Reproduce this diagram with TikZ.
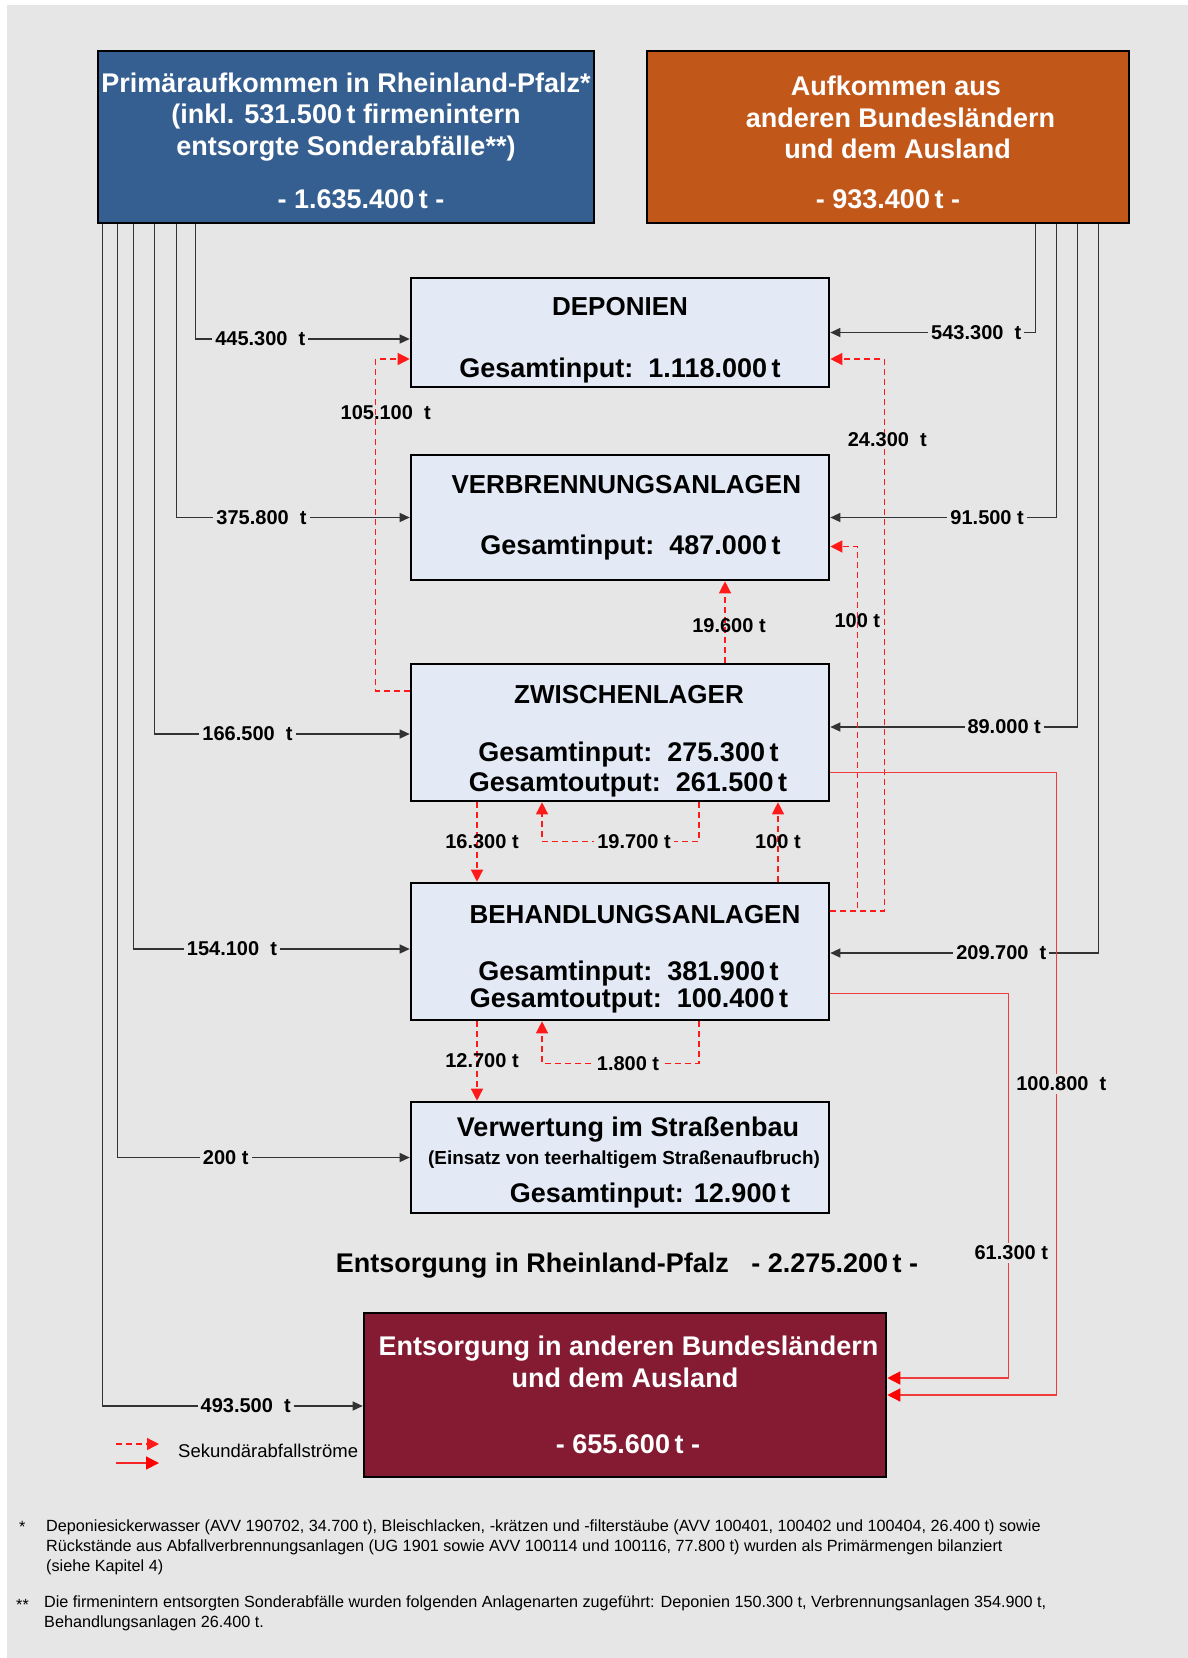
\documentclass[tikz,border=0pt]{standalone}
\usepackage{fontspec}
\setmainfont{Liberation Sans}
\usetikzlibrary{arrows.meta}
\definecolor{primblue}{HTML}{365F91}
\definecolor{auslorange}{HTML}{C2571A}
\definecolor{entsred}{HTML}{841B32}
\definecolor{anlagefill}{HTML}{E3EAF5}
\definecolor{paper}{HTML}{E6E6E6}
\definecolor{flowgray}{HTML}{333333}
\definecolor{secred}{HTML}{FF1A1A}
\definecolor{outred}{HTML}{F03C3C}
\newcommand{\boxfont}{\fontsize{27}{30}\selectfont\bfseries}
\newcommand{\amountfont}{\fontsize{20}{24}\selectfont\bfseries}
\newcommand{\notefont}{\fontsize{16.2}{19.8}\selectfont}
\newcommand{\kopf}[1]{\rule{0pt}{#1}}
\newcommand{\einr}[1]{\hspace*{#1pt}}
\newcommand{\titel}[1]{{\fontsize{26}{30}\selectfont #1}}
\tikzset{
  anlage/.style={draw=black, line width=2.6pt, fill=anlagefill, inner sep=0pt, align=center, minimum width=418pt, font=\boxfont},
  quelle/.style={draw=black, line width=2.6pt, inner sep=0pt, align=center, text=white, font=\fontsize{27}{31.5}\selectfont\bfseries},
  flow/.style={flowgray, line width=1.3pt, -{Triangle[length=10pt,width=9pt]}},
  secflow/.style={secred, line width=1.3pt, dash pattern=on 6pt off 4pt, -{Triangle[length=12pt,width=12pt]}},
  outflow/.style={outred, line width=1.5pt, -{Triangle[length=13pt,width=13pt,color=red]}},
  amount/.style={fill=paper, inner sep=3pt, text=black, font=\amountfont},
  secamount/.style={inner sep=1pt, text=black, font=\amountfont},
  note/.style={inner sep=0pt, font=\notefont, align=left}
}
\begin{document}
\begin{tikzpicture}[x=1pt,y=-1pt]
  \useasboundingbox (0,0) rectangle (1188,1658);
  \fill[paper] (7,5) rectangle (1188,1658);

  % Aufkommen
  \node[quelle, fill=primblue, minimum width=496pt, minimum height=172pt] (prim) at (346,137)
    {\kopf{27.7pt}Primäraufkommen in Rheinland-Pfalz*\\(inkl. 531.500\,t firmenintern\\entsorgte Sonderabfälle**)\\[22pt]\einr{30}- 1.635.400\,t -};
  \node[quelle, fill=auslorange, minimum width=482pt, minimum height=172pt] (ausl) at (888,137)
    {\kopf{30.5pt}\einr{16}Aufkommen aus\\\einr{25}anderen Bundesländern\\\einr{19}und dem Ausland\\[18pt]- 933.400\,t -};

  % Anlagen
  \node[anlage, minimum height=109pt] (depo) at (620,332.5)
    {\kopf{34.5pt}\titel{DEPONIEN}\\[32pt]Gesamtinput:~~1.118.000\,t};
  \node[anlage, minimum height=125pt] (verb) at (620,517.5)
    {\einr{12.6}\titel{VERBRENNUNGSANLAGEN}\\[31pt]\einr{21}Gesamtinput:~~487.000\,t};
  \node[anlage, minimum height=137pt] (zwis) at (620,732.5)
    {\kopf{35.5pt}\einr{18}\titel{ZWISCHENLAGER}\\[28pt]\einr{17}Gesamtinput:~~275.300\,t\\\einr{16}Gesamtoutput:~~261.500\,t};
  \node[anlage, minimum height=137pt] (beha) at (620,951.5)
    {\kopf{33.5pt}\einr{30}\titel{BEHANDLUNGSANLAGEN}\\[27pt]\einr{17}Gesamtinput:~~381.900\,t\\[-3pt]\einr{18}Gesamtoutput:~~100.400\,t};
  \node[anlage, minimum height=111pt] (verw) at (620,1157.5)
    {\kopf{29.5pt}\einr{16}Verwertung im Straßenbau\\[-2pt]\einr{8}{\fontsize{18.9}{22}\selectfont (Einsatz von teerhaltigem Straßenaufbruch)}\\[8pt]\einr{60}Gesamtinput: 12.900\,t};
  \node[font=\boxfont] (rlpsum) at (627,1266) {Entsorgung in Rheinland-Pfalz~~~- 2.275.200\,t -};
  \node[quelle, fill=entsred, minimum width=522pt, minimum height=164pt] (ents) at (625,1395)
    {\einr{7}Entsorgung in anderen Bundesländern\\und dem Ausland\\[35pt]\einr{6}- 655.600\,t -};

  % Primaerstroeme Rheinland-Pfalz
  \draw[flow] ([xshift=99pt]prim.south west) |- node[amount,pos=0.651] {445.300~~t} ([yshift=-6.5pt]depo.west);
  \draw[flow] ([xshift=80pt]prim.south west) |- node[amount,pos=0.682] {375.800~~t} (verb.west);
  \draw[flow] ([xshift=58pt]prim.south west) |- node[amount,pos=0.682] {166.500~~t} ([yshift=-1.5pt]zwis.west);
  \draw[flow] ([xshift=37pt]prim.south west) |- node[amount,pos=0.678] {154.100~~t} ([yshift=2.5pt]beha.west);
  \draw[flow] ([xshift=21pt]prim.south west) |- node[amount,pos=0.685] {200~t} (verw.west);
  \draw[flow] ([xshift=6pt]prim.south west) |- node[amount,pos=0.775] {493.500~~t} ([yshift=-11pt]ents.west);

  % Importe
  \draw[flow] ([xshift=-95pt]ausl.south east) |- node[amount,pos=0.644] {543.300~~t} (depo.east);
  \draw[flow] ([xshift=-74pt]ausl.south east) |- node[amount,pos=0.653] {91.500~t} (verb.east);
  \draw[flow] ([xshift=-53pt]ausl.south east) |- node[amount,pos=0.648] {89.000~t} ([yshift=5.5pt]zwis.east);
  \draw[flow] ([xshift=-32pt]ausl.south east) |- node[amount,pos=0.681] {209.700~~t} ([yshift=-1.5pt]beha.east);

  % Sekundaerstroeme
  \draw[secflow] ([yshift=41.5pt]zwis.west) -- ++(-34,0) |- node[secamount,pos=0.42,xshift=10pt] {105.100~~t} ([yshift=-26.5pt]depo.west);
  \draw[secflow] ([yshift=40.5pt]beha.east) -- ++(54,0) |- node[secamount,pos=0.427,xshift=3pt] {24.300~~t} ([yshift=-26.5pt]depo.east);
  \draw[secflow] ([yshift=40.5pt]beha.east) -- ++(27,0) |- node[secamount,pos=0.398] {100~t} ([yshift=-29pt]verb.east);
  \draw[secflow] ([xshift=105pt]zwis.north) -- node[secamount,pos=0.45,xshift=4pt] {19.600~t} ([xshift=105pt]verb.south);
  \draw[secflow] ([xshift=-143pt]zwis.south) -- node[secamount,xshift=5pt] {16.300~t} ([xshift=-143pt]beha.north);
  \draw[secflow] ([xshift=79pt]zwis.south) -- ++(0,39) -| node[amount,pos=0.207] {19.700~t} ([xshift=-78pt]zwis.south);
  \draw[secflow] ([xshift=158pt]beha.north) -- node[secamount] {100~t} ([xshift=158pt]zwis.south);
  \draw[secflow] ([xshift=-143pt]beha.south) -- node[secamount,xshift=5pt] {12.700~t} ([xshift=-143pt]verw.north);
  \draw[secflow] ([xshift=79pt]beha.south) -- ++(0,42) -| node[amount,pos=0.226] {1.800~t} ([xshift=-78pt]beha.south);

  % Exporte
  \draw[outflow] ([yshift=-40pt]zwis.east) -- ++(226,0) |- node[amount,pos=0.25,xshift=5pt] {100.800~~t} (ents.east);
  \draw[outflow] ([yshift=-42pt]beha.east) -- ++(178,0) |- node[amount,pos=0.337,xshift=3pt] {61.300~t} ([yshift=17pt]ents.east);

  % Legende
  \node[inner sep=0pt, anchor=west, font=\fontsize{18.5}{22}\selectfont] (legende) at (178,1451) {Sekundärabfallströme};
  \draw[secflow] ([xshift=-62pt,yshift=7pt]legende.west) -- ++(43,0);
  \draw[outflow, outred!60!red] ([xshift=-62pt,yshift=-12pt]legende.west) -- ++(43,0);

  % Fussnoten
  \node[note, anchor=west] (stern) at (19,1527) {*};
  \node[note, anchor=north west] (fneins) at (46,1520)
    {Deponiesickerwasser (AVV 190702, 34.700 t), Bleischlacken, -krätzen und -filterstäube (AVV 100401, 100402 und 100404, 26.400 t) sowie\\
     Rückstände aus Abfallverbrennungsanlagen (UG 1901 sowie AVV 100114 und 100116, 77.800 t) wurden als Primärmengen bilanziert\\
     (siehe Kapitel 4)};
  \node[note, anchor=west] (sternstern) at (16,1605) {**};
  \node[note, anchor=north west] (fnzwei) at (44,1596)
    {Die firmenintern entsorgten Sonderabfälle wurden folgenden Anlagenarten zugeführt: Deponien 150.300 t, Verbrennungsanlagen 354.900 t,\\
     Behandlungsanlagen 26.400 t.};
\end{tikzpicture}
\end{document}
